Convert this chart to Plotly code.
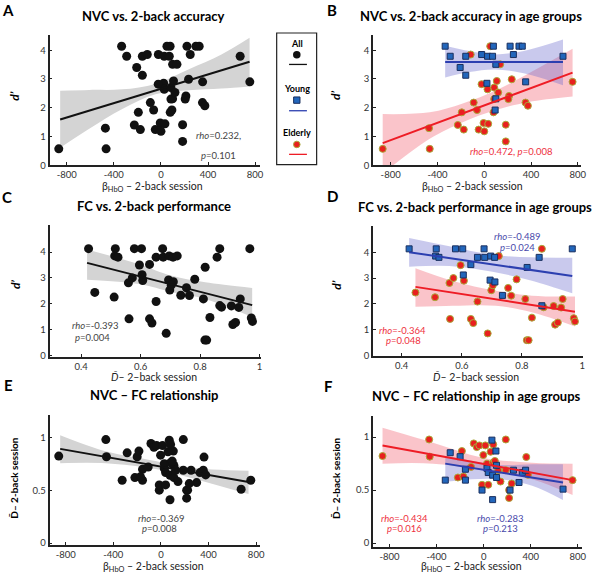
import plotly.graph_objects as go

W, H = 600, 579
FONT = "Lato"

# ---------------- Panel A/B data: beta_HbO vs d' ----------------
nvc_young_beta = [-334, -291, -206, -158, -158, -22, 28, 71, 78, 23, 99, 99, 93, 221, 297, 325, 249, 354, 673]
nvc_young_dprime = [4.14, 3.79, 3.40, 3.79, 3.13, 3.85, 3.79, 3.79, 4.14, 2.85, 3.51, 2.31, 1.92, 4.14, 4.14, 4.14, 3.85, 2.90, 3.79]
nvc_elderly_beta = [-868, -472, -466, -226, -192, -175, -116, -90, -62, -48, -23, -6, 0, 28, 34, 51, 85, 85, 79,
                    107, 119, 136, 184, 184, 212, 206, 235, 353, 373, 755]
nvc_elderly_dprime = [0.57, 1.29, 0.57, 1.40, 1.84, 1.24, 3.85, 2.18, 1.92, 1.24, 2.82, 1.47, 1.18, 2.64, 1.44, 4.14,
                      2.70, 2.30, 1.84, 2.93, 2.53, 3.51, 0.83, 1.41, 2.41, 2.30, 2.99, 2.18, 2.07, 2.90]

# ---------------- Panel C/D data: D-bar vs d' ----------------
fc_young_D = [0.425, 0.515, 0.513, 0.524, 0.579, 0.603, 0.605, 0.630, 0.652, 0.674, 0.676, 0.696, 0.709, 0.694,
              0.710, 0.735, 0.817, 0.857, 0.866, 0.967]
fc_young_dprime = [4.13, 4.13, 3.85, 3.80, 4.13, 4.13, 3.12, 3.52, 3.80, 4.13, 3.80, 3.85, 3.80, 2.92, 2.85, 2.33,
                   3.41, 3.80, 1.93, 4.13]
fc_elderly_D = [0.446, 0.511, 0.559, 0.572, 0.561, 0.596, 0.607, 0.630, 0.638, 0.652, 0.686, 0.698, 0.703, 0.723,
                0.754, 0.764, 0.782, 0.811, 0.816, 0.822, 0.833, 0.866, 0.872, 0.905, 0.910, 0.919, 0.930, 0.935,
                0.972, 0.976]
fc_elderly_dprime = [2.44, 2.26, 2.81, 3.00, 1.42, 3.50, 2.90, 1.42, 1.26, 2.09, 0.86, 2.53, 2.72, 3.85, 2.62, 2.32,
                     2.95, 2.19, 0.60, 0.60, 1.47, 4.13, 1.87, 1.92, 1.20, 1.28, 1.86, 2.19, 1.45, 1.32]

# ---------------- Panel E/F data: beta_HbO vs D-bar ----------------
nf_young_beta = [-326, -284, -200, -155, -155, -14, 28, 39, 70, 76, 104, 109, 109, 76, 224, 253, 300, 328, 356, 674]
nf_young_D = [0.594, 0.853, 0.816, 0.697, 0.594, 0.50, 0.706, 0.666, 0.972, 0.641, 0.869, 0.734, 0.619, 0.41,
              0.50, 0.688, 0.572, 0.666, 0.688, 0.509]
nf_elderly_beta = [-859, -463, -458, -185, -219, -172, -107, -84, -59, -37, -3, 14, -14, 39, 28, 59, 81, 81, 95,
                   123, 143, 188, 188, 216, 216, 238, 362, 376, 755]
nf_elderly_D = [0.822, 0.978, 0.816, 0.869, 0.619, 0.628, 0.719, 0.941, 0.906, 0.922, 0.831, 0.922, 0.55, 0.55,
                0.75, 0.862, 0.931, 0.759, 0.775, 0.688, 0.581, 0.978, 0.688, 0.50, 0.425, 0.5625, 0.8125, 0.644,
                0.594]

# ---------------- fitted lines and confidence bands ----------------
nvc_all_fit_x, nvc_all_fit_y = [-856, 753], [1.59, 3.60]
nvc_all_band_x = [-856, -609, -328, -47, 233, 514, 753]
nvc_all_band_lo = [0.61, 1.27, 1.96, 2.47, 2.61, 2.67, 2.74]
nvc_all_band_hi = [2.59, 2.62, 2.64, 2.83, 3.33, 3.85, 4.43]

nvc_young_fit_x, nvc_young_fit_y = [-334, 673], [3.59, 3.59]
nvc_young_band_x = [-334, -127, 99, 382, 673]
nvc_young_band_lo = [3.05, 3.24, 3.33, 3.16, 2.78]
nvc_young_band_hi = [4.16, 3.97, 3.85, 4.02, 4.37]

nvc_elderly_fit_x, nvc_elderly_fit_y = [-868, 755], [0.77, 3.22]
nvc_elderly_band_x = [-868, -466, -184, 99, 382, 755]
nvc_elderly_band_lo = [-0.29, 0.92, 1.50, 1.92, 2.20, 2.39]
nvc_elderly_band_hi = [1.78, 1.84, 2.15, 2.60, 3.20, 4.05]

fc_all_fit_x, fc_all_fit_y = [0.42, 0.975], [3.58, 1.95]
fc_all_band_x = [0.42, 0.594, 0.705, 0.817, 0.975]
fc_all_band_lo = [2.93, 2.76, 2.45, 2.19, 1.49]
fc_all_band_hi = [4.10, 3.53, 3.08, 2.83, 2.61]

fc_young_fit_x, fc_young_fit_y = [0.425, 0.967], [4.00, 3.08]
fc_young_band_x = [0.425, 0.559, 0.702, 0.833, 0.967]
fc_young_band_lo = [3.44, 3.47, 3.24, 2.90, 2.41]
fc_young_band_hi = [4.55, 4.23, 3.90, 3.80, 3.79]

fc_elderly_fit_x, fc_elderly_fit_y = [0.446, 0.976], [2.66, 1.70]
fc_elderly_band_x = [0.446, 0.570, 0.713, 0.833, 0.976]
fc_elderly_band_lo = [1.89, 1.93, 1.93, 1.68, 1.13]
fc_elderly_band_hi = [3.38, 2.89, 2.51, 2.32, 2.29]

nf_all_fit_x, nf_all_fit_y = [-847, 736], [0.89, 0.577]
nf_all_band_x = [-847, -464, -47, 230, 736]
nf_all_band_lo = [0.755, 0.755, 0.70, 0.623, 0.463]
nf_all_band_hi = [1.02, 0.868, 0.776, 0.715, 0.684]

nf_young_fit_x, nf_young_fit_y = [-326, 674], [0.75, 0.572]
nf_young_band_x = [-326, -93, 131, 412, 673]
nf_young_band_lo = [0.578, 0.603, 0.603, 0.541, 0.406]
nf_young_band_hi = [0.822, 0.775, 0.738, 0.744, 0.744]

nf_elderly_fit_x, nf_elderly_fit_y = [-859, 755], [0.922, 0.594]
nf_elderly_band_x = [-859, -430, -9, 412, 755]
nf_elderly_band_lo = [0.75, 0.75, 0.688, 0.603, 0.453]
nf_elderly_band_hi = [1.088, 0.947, 0.806, 0.759, 0.75]

# ---------------- tick labels ----------------
beta_ticks = [-800, -400, 0, 400, 800]
beta_ticktext = ["-800", "-400", "0", "400", "800"]
dprime_ticks = [0, 1, 2, 3, 4]
dbar_ticks = [0.4, 0.6, 0.8, 1.0]
dbar_ticktext = ["0.4", "0.6", "0.8", "1"]
dbar_y_ticks = [0, 0.5, 1]
dbar_y_ticktext = ["0", "0.5", "1"]

# ---------------- styles ----------------
BLACK = "#111111"
BLUE_LINE = "#2c3fb0"
RED_LINE = "#ee1c25"
GRAY_BAND = "#d4d4d4"
BLUE_BAND = "rgba(105,105,205,0.36)"
RED_BAND = "rgba(240,60,80,0.30)"
SQ_FILL = "#2266bb"
SQ_EDGE = "#1a2f5e"
RD_FILL = "#e8201e"
RD_EDGE = "#a9a93a"


def pxx(x):
    return x / W


def pxy(y):
    return 1 - y / H


fig = go.Figure()

panels = {
    "A": dict(n="", xd=(50, 262), yd=(35, 166.7), xr=(-946, 840), yr=(0, 4.54),
              xt=beta_ticks, xtt=beta_ticktext, yt=dprime_ticks, ytt=None),
    "B": dict(n="2", xd=(376, 586), yd=(35, 166.7), xr=(-952, 828), yr=(0, 4.54),
              xt=beta_ticks, xtt=beta_ticktext, yt=dprime_ticks, ytt=None),
    "C": dict(n="3", xd=(50, 263), yd=(227.3, 360), xr=(0.294, 1.004), yr=(-0.05, 5.03),
              xt=dbar_ticks, xtt=dbar_ticktext, yt=dprime_ticks, ytt=None),
    "D": dict(n="4", xd=(376, 588), yd=(228.3, 359.3), xr=(0.3045, 1.003), yr=(-0.02, 5.0),
              xt=dbar_ticks, xtt=dbar_ticktext, yt=dprime_ticks, ytt=None),
    "E": dict(n="5", xd=(50, 262), yd=(418.3, 550), xr=(-936, 831), yr=(-0.02, 1.213),
              xt=beta_ticks, xtt=beta_ticktext, yt=dbar_y_ticks, ytt=dbar_y_ticktext),
    "F": dict(n="6", xd=(376, 587), yd=(419.3, 551.7), xr=(-941, 836), yr=(-0.037, 1.203),
              xt=beta_ticks, xtt=beta_ticktext, yt=dbar_y_ticks, ytt=dbar_y_ticktext),
}

layout_axes = {}
for key, p in panels.items():
    n = p["n"]
    layout_axes["xaxis" + n] = dict(
        domain=[pxx(p["xd"][0]), pxx(p["xd"][1])], range=list(p["xr"]), anchor="y" + n,
        showline=True, linecolor="#222222", linewidth=1.6, ticks="inside", ticklen=3,
        tickcolor="#222222", tickwidth=1, tickvals=p["xt"], ticktext=p["xtt"],
        showgrid=False, zeroline=False, fixedrange=True,
        tickfont=dict(family=FONT, size=9.5, color="#333333"))
    layout_axes["yaxis" + n] = dict(
        domain=[pxy(p["yd"][1]), pxy(p["yd"][0])], range=list(p["yr"]), anchor="x" + n,
        showline=True, linecolor="#222222", linewidth=1.6, ticks="inside", ticklen=3,
        tickcolor="#222222", tickwidth=1, tickvals=p["yt"],
        ticktext=p["ytt"] if p["ytt"] else [str(v) for v in p["yt"]],
        showgrid=False, zeroline=False, fixedrange=True,
        tickfont=dict(family=FONT, size=9.5, color="#333333"))


def ax(key):
    n = panels[key]["n"]
    return dict(xaxis="x" + n, yaxis="y" + n)


def band(key, xs, lo, hi, color):
    fig.add_trace(go.Scatter(x=xs, y=lo, mode="lines", line=dict(width=0, shape="spline"),
                             hoverinfo="skip", showlegend=False, **ax(key)))
    fig.add_trace(go.Scatter(x=xs, y=hi, mode="lines", line=dict(width=0, shape="spline"),
                             fill="tonexty", fillcolor=color, hoverinfo="skip", showlegend=False, **ax(key)))


def fitline(key, xs, ys, color):
    fig.add_trace(go.Scatter(x=xs, y=ys, mode="lines", line=dict(color=color, width=2),
                             hoverinfo="skip", showlegend=False, **ax(key)))


def pts_all(key, xs, ys):
    fig.add_trace(go.Scatter(x=xs, y=ys, mode="markers",
                             marker=dict(color=BLACK, size=9, line=dict(width=0)),
                             showlegend=False, cliponaxis=False, **ax(key)))


def pts_young(key, xs, ys):
    fig.add_trace(go.Scatter(x=xs, y=ys, mode="markers",
                             marker=dict(color=SQ_FILL, size=6, symbol="square",
                                         line=dict(width=1, color=SQ_EDGE)),
                             showlegend=False, cliponaxis=False, **ax(key)))


def pts_elderly(key, xs, ys):
    fig.add_trace(go.Scatter(x=xs, y=ys, mode="markers",
                             marker=dict(color=RD_FILL, size=7, symbol="circle",
                                         line=dict(width=1, color=RD_EDGE)),
                             showlegend=False, cliponaxis=False, **ax(key)))


# Panel A
band("A", nvc_all_band_x, nvc_all_band_lo, nvc_all_band_hi, GRAY_BAND)
pts_all("A", nvc_young_beta + nvc_elderly_beta, nvc_young_dprime + nvc_elderly_dprime)
fitline("A", nvc_all_fit_x, nvc_all_fit_y, BLACK)

# Panel B
band("B", nvc_elderly_band_x, nvc_elderly_band_lo, nvc_elderly_band_hi, RED_BAND)
band("B", nvc_young_band_x, nvc_young_band_lo, nvc_young_band_hi, BLUE_BAND)
pts_elderly("B", nvc_elderly_beta, nvc_elderly_dprime)
pts_young("B", nvc_young_beta, nvc_young_dprime)
fitline("B", nvc_elderly_fit_x, nvc_elderly_fit_y, RED_LINE)
fitline("B", nvc_young_fit_x, nvc_young_fit_y, BLUE_LINE)

# Panel C
band("C", fc_all_band_x, fc_all_band_lo, fc_all_band_hi, GRAY_BAND)
pts_all("C", fc_young_D + fc_elderly_D, fc_young_dprime + fc_elderly_dprime)
fitline("C", fc_all_fit_x, fc_all_fit_y, BLACK)

# Panel D
band("D", fc_elderly_band_x, fc_elderly_band_lo, fc_elderly_band_hi, RED_BAND)
band("D", fc_young_band_x, fc_young_band_lo, fc_young_band_hi, BLUE_BAND)
pts_elderly("D", fc_elderly_D, fc_elderly_dprime)
pts_young("D", fc_young_D, fc_young_dprime)
fitline("D", fc_elderly_fit_x, fc_elderly_fit_y, RED_LINE)
fitline("D", fc_young_fit_x, fc_young_fit_y, BLUE_LINE)

# Panel E
band("E", nf_all_band_x, nf_all_band_lo, nf_all_band_hi, GRAY_BAND)
pts_all("E", nf_young_beta + nf_elderly_beta, nf_young_D + nf_elderly_D)
fitline("E", nf_all_fit_x, nf_all_fit_y, BLACK)

# Panel F
band("F", nf_elderly_band_x, nf_elderly_band_lo, nf_elderly_band_hi, RED_BAND)
band("F", nf_young_band_x, nf_young_band_lo, nf_young_band_hi, BLUE_BAND)
pts_elderly("F", nf_elderly_beta, nf_elderly_D)
pts_young("F", nf_young_beta, nf_young_D)
fitline("F", nf_elderly_fit_x, nf_elderly_fit_y, RED_LINE)
fitline("F", nf_young_fit_x, nf_young_fit_y, BLUE_LINE)

annotations = []


def text(t, x, y, size=10, color="#000000", angle=0, xanchor="center"):
    annotations.append(dict(text=t, x=pxx(x), y=pxy(y), xref="paper", yref="paper",
                            showarrow=False, xanchor=xanchor, yanchor="middle", textangle=angle,
                            font=dict(family=FONT, size=size, color=color)))


# titles
for t, x, y in [("NVC vs. 2-back accuracy", 155, 16),
                ("NVC vs. 2-back accuracy in age groups", 475, 16),
                ("FC vs. 2-back performance", 155, 207.3),
                ("FC vs. 2-back performance in age groups", 479, 208.3),
                ("NVC – FC relationship", 155.3, 398.3),
                ("NVC – FC relationship in age groups", 480.5, 399.3)]:
    text("<b>" + t + "</b>", x, y, size=13)

# panel letters
for t, x, y in [("A", 8.3, 10), ("B", 334.7, 10), ("C", 7.5, 198.5), ("D", 335, 197.5),
                ("E", 8.3, 388.5), ("F", 331.7, 389.5)]:
    text("<b>" + t + "</b>", x, y, size=15)

# x-axis titles
beta_title = "β<sub>HbO</sub> – 2-back session"
dbar_title = "<i>D̄</i>– 2–back session"
for t, x, y in [(beta_title, 154, 189), (beta_title, 476.5, 189), (dbar_title, 155, 380.5),
                (dbar_title, 480.5, 380.5), (beta_title, 154.5, 572), (beta_title, 475, 572)]:
    text(t, x, y, size=10.5, color="#222222")

# y-axis titles
for x, y in [(15, 96.7), (339, 96.7), (15, 286.7), (339, 288)]:
    text("<b><i>d’</i></b>", x, y, size=12, angle=-90)
for x, y in [(13.3, 481.7), (338.3, 481.7)]:
    text("<b>D̄– 2-back session</b>", x, y, size=10, angle=-90)

GRAY_TXT = "#444444"
RED_TXT = "#ee3040"
BLUE_TXT = "#4848aa"
stats = [
    ("<i>rho</i>=0.232,", 220, 136.7, GRAY_TXT), ("<i>p</i>=0.101", 220.5, 156.7, GRAY_TXT),
    ("<i>rho</i>=0.472, <i>p</i>=0.008", 516.3, 152.7, RED_TXT),
    ("<i>rho</i>=-0.393", 96.8, 328.3, GRAY_TXT), ("<i>p</i>=0.004", 93.7, 340.7, GRAY_TXT),
    ("<i>rho</i>=-0.489", 521.7, 239, BLUE_TXT), ("<i>p</i>=0.024", 521.7, 250, BLUE_TXT),
    ("<i>rho</i>=-0.364", 406.2, 333.3, RED_TXT), ("<i>p</i>=0.048", 406.7, 343.3, RED_TXT),
    ("<i>rho</i>=-0.369", 163.3, 522.7, GRAY_TXT), ("<i>p</i>=0.008", 161.3, 533.3, GRAY_TXT),
    ("<i>rho</i>=-0.434", 407.5, 523.3, RED_TXT), ("<i>p</i>=0.016", 407.5, 533.3, RED_TXT),
    ("<i>rho</i>=-0.283", 505, 523.3, BLUE_TXT), ("<i>p</i>=0.213", 504.5, 533.3, BLUE_TXT),
]
for t, x, y, c in stats:
    text(t, x, y, size=9.5, color=c)

# legend box
legend_labels = ["All", "Young", "Elderly"]
legend_text_y = [44, 89.3, 133.3]
legend_marker_y = [55.3, 101, 145.7]
legend_line_y = [65, 111.7, 155.7]
legend_line_colors = [BLACK, BLUE_LINE, RED_LINE]
LX = 299.3
for lab, ty in zip(legend_labels, legend_text_y):
    text("<b>" + lab + "</b>", LX, ty, size=9)

shapes = [dict(type="rect", xref="paper", yref="paper", x0=pxx(279), x1=pxx(319.3), y0=pxy(166),
               y1=pxy(33.3), line=dict(color="#222222", width=1.2), fillcolor="rgba(0,0,0,0)")]
for ly, lc in zip(legend_line_y, legend_line_colors):
    shapes.append(dict(type="line", xref="paper", yref="paper", x0=pxx(291.5), x1=pxx(309.5),
                       y0=pxy(ly), y1=pxy(ly), line=dict(color=lc, width=1.3)))
# legend markers
r = 3.8
shapes.append(dict(type="circle", xref="paper", yref="paper", x0=pxx(LX - r), x1=pxx(LX + r),
                   y0=pxy(legend_marker_y[0] + r), y1=pxy(legend_marker_y[0] - r),
                   fillcolor=BLACK, line=dict(width=0)))
s = 3.2
shapes.append(dict(type="rect", xref="paper", yref="paper", x0=pxx(LX - s), x1=pxx(LX + s),
                   y0=pxy(legend_marker_y[1] + s), y1=pxy(legend_marker_y[1] - s),
                   fillcolor=SQ_FILL, line=dict(width=1, color=SQ_EDGE)))
r2 = 3.3
shapes.append(dict(type="circle", xref="paper", yref="paper", x0=pxx(LX - r2), x1=pxx(LX + r2),
                   y0=pxy(legend_marker_y[2] + r2), y1=pxy(legend_marker_y[2] - r2),
                   fillcolor=RD_FILL, line=dict(width=1, color=RD_EDGE)))

fig.update_layout(
    width=W, height=H, margin=dict(l=0, r=0, t=0, b=0),
    paper_bgcolor="white", plot_bgcolor="white", showlegend=False,
    annotations=annotations, shapes=shapes,
    font=dict(family=FONT, size=10, color="#222222"),
    **layout_axes)

fig.write_html("out.html", config={"displayModeBar": False},
               post_script="document.body.style.margin='0px';document.body.style.padding='0px';")
